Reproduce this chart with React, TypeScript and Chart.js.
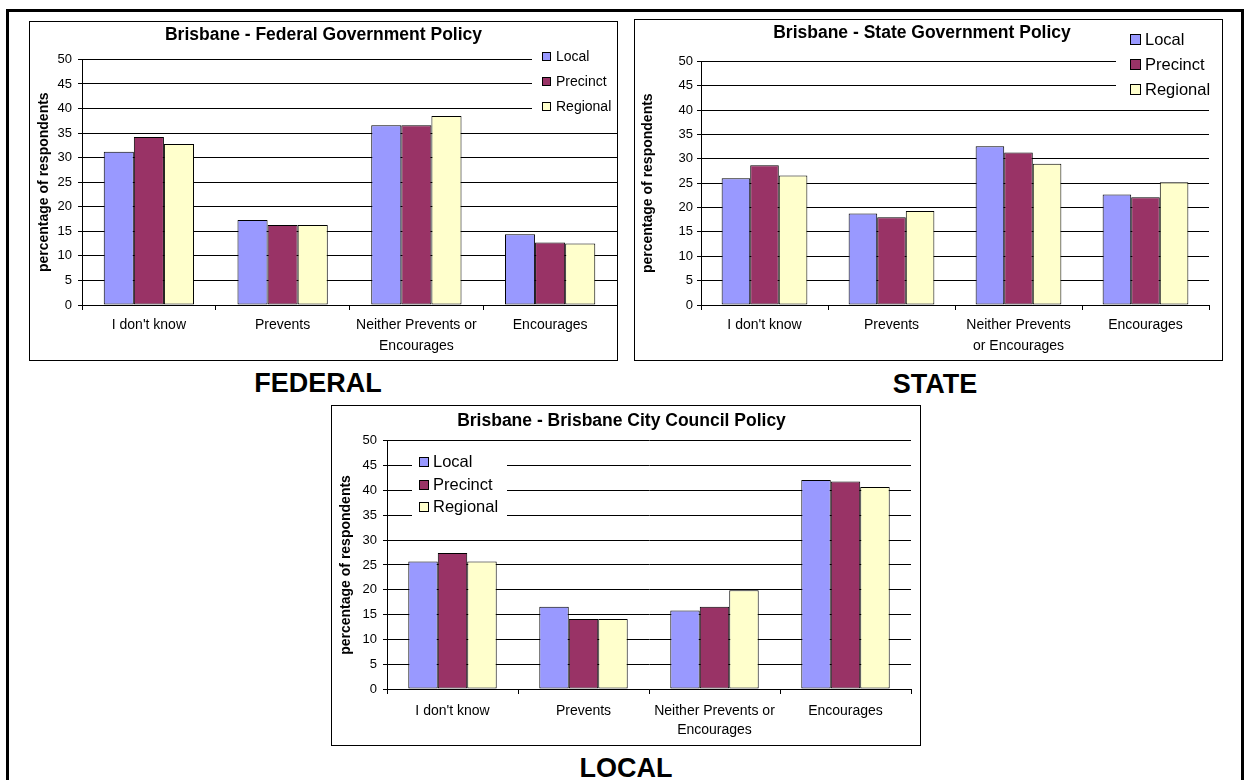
import React, { useEffect, useRef } from 'react';
import { Chart, registerables } from 'chart.js';

Chart.register(...registerables);

const FONT = "'Liberation Sans', Arial, Helvetica, sans-serif";
Chart.defaults.font.family = FONT;
Chart.defaults.color = '#000';

// ---- data ----
const seriesNames = ['Local', 'Precinct', 'Regional'];
const seriesColors = ['#9999FF', '#993366', '#FFFFCC'];

const federalCategories = ["I don't know", 'Prevents', ['Neither Prevents or', 'Encourages'], 'Encourages'];
const stateCategories = ["I don't know", 'Prevents', ['Neither Prevents', 'or Encourages'], 'Encourages'];
const localCategories = ["I don't know", 'Prevents', ['Neither Prevents or', 'Encourages'], 'Encourages'];

const federalLocal = [31.2, 17.3, 36.6, 14.4];
const federalPrecinct = [34.2, 16.3, 36.6, 12.7];
const federalRegional = [32.8, 16.3, 38.5, 12.5];

const stateLocal = [26.0, 18.8, 32.6, 22.7];
const statePrecinct = [28.7, 18.0, 31.3, 22.1];
const stateRegional = [26.6, 19.3, 29.0, 25.2];

const localLocal = [25.7, 16.6, 15.8, 42.1];
const localPrecinct = [27.4, 14.1, 16.6, 41.8];
const localRegional = [25.7, 14.1, 19.9, 40.7];

const yMin = 0;
const yMax = 50;
const yStep = 5;
const yAxisTitle = 'percentage of respondents';

const federalTitle = 'Brisbane - Federal Government Policy';
const stateTitle = 'Brisbane - State Government Policy';
const localTitle = 'Brisbane - Brisbane City Council Policy';

// ---- layout specs ----
type LegendSpec = { box: number[]; sq: number; sqX: number; textX: number; rows: number[]; fontSize: number };
type PanelSpec = {
  left: number; top: number; w: number; h: number;
  yW: number; xH: number; padR: number; t1: number; t2: number;
  yTitlePad: number; xTickPad: number; xLineHeight: number; yTickPad: number;
  legend: LegendSpec;
};

const federalSpec: PanelSpec = {
  left: 29, top: 21, w: 587, h: 338, yW: 52, xH: 55, padR: 0, t1: 3, t2: 14,
  yTitlePad: 5.6, xTickPad: 4.5, xLineHeight: 1.5, yTickPad: 6,
  legend: { box: [502, 24, 85, 72], sq: 8, sqX: 512, textX: 526, rows: [34, 59, 84], fontSize: 14 },
};
const stateSpec: PanelSpec = {
  left: 634, top: 19, w: 587, h: 340, yW: 66, xH: 55, padR: 13, t1: 3, t2: 18,
  yTitlePad: 4.6, xTickPad: 4.5, xLineHeight: 1.5, yTickPad: 4,
  legend: { box: [481, 5, 106, 75], sq: 10, sqX: 495, textX: 510, rows: [19, 44, 69], fontSize: 16.5 },
};
const localSpec: PanelSpec = {
  left: 331, top: 405, w: 588, h: 339, yW: 55, xH: 56, padR: 9, t1: 4.5, t2: 10,
  yTitlePad: 6, xTickPad: 8, xLineHeight: 1.35, yTickPad: 6,
  legend: { box: [80, 39, 95, 80], sq: 9, sqX: 87, textX: 101, rows: [55, 78, 100], fontSize: 16.5 },
};

function makeLegendPlugin(spec: LegendSpec) {
  return {
    id: 'boxLegend',
    afterDraw(chart: any) {
      const ctx = chart.ctx as CanvasRenderingContext2D;
      ctx.save();
      ctx.fillStyle = '#fff';
      ctx.fillRect(spec.box[0], spec.box[1], spec.box[2], spec.box[3]);
      ctx.font = `${spec.fontSize}px ${FONT}`;
      ctx.textBaseline = 'middle';
      ctx.textAlign = 'left';
      chart.data.datasets.forEach((ds: any, i: number) => {
        const y = spec.rows[i];
        const sy = Math.round(y - spec.sq / 2) + 0.5;
        const sx = spec.sqX + 0.5;
        ctx.fillStyle = ds.backgroundColor;
        ctx.fillRect(sx, sy, spec.sq, spec.sq);
        ctx.strokeStyle = '#000';
        ctx.lineWidth = 1;
        ctx.strokeRect(sx, sy, spec.sq, spec.sq);
        ctx.fillStyle = '#000';
        ctx.fillText(ds.label, spec.textX, y + 1);
      });
      ctx.restore();
    },
  };
}

function BarPanel({ spec, title, categories, series }: { spec: PanelSpec; title: string; categories: any[]; series: number[][] }) {
  const ref = useRef<HTMLCanvasElement>(null);
  useEffect(() => {
    if (!ref.current) return;
    const chart = new Chart(ref.current, {
      type: 'bar',
      data: {
        labels: categories,
        datasets: series.map((values, i) => ({
          label: seriesNames[i],
          data: values,
          backgroundColor: seriesColors[i],
          borderColor: '#000',
          borderWidth: 1,
          borderSkipped: false,
          categoryPercentage: 0.675,
          barPercentage: 1,
        })),
      },
      options: {
        responsive: false,
        animation: false,
        devicePixelRatio: 1,
        layout: { padding: { left: 0, right: spec.padR, top: 0, bottom: 0 } },
        plugins: {
          legend: { display: false },
          tooltip: { enabled: false },
          title: {
            display: true,
            text: title,
            color: '#000',
            font: { size: 17.5, weight: 'bold', family: FONT, lineHeight: 1.2 },
            padding: { top: spec.t1 - 0.3, bottom: spec.t2 - 0.3 },
          },
        },
        scales: {
          x: {
            afterFit: (s: any) => { s.height = spec.xH; },
            grid: { display: true, drawOnChartArea: false, drawTicks: true, tickLength: 5, color: '#000', offset: true },
            border: { display: true, color: '#000', width: 1 },
            ticks: { color: '#000', padding: spec.xTickPad, maxRotation: 0, autoSkip: false, font: { size: 14, family: FONT, lineHeight: spec.xLineHeight } },
          },
          y: {
            min: yMin,
            max: yMax,
            afterFit: (s: any) => { s.width = spec.yW; },
            grid: { color: '#000', lineWidth: 1, drawTicks: true, tickLength: 4 },
            border: { display: true, color: '#000', width: 1 },
            ticks: { stepSize: yStep, color: '#000', padding: spec.yTickPad, font: { size: 13, family: FONT } },
            title: {
              display: true,
              text: yAxisTitle,
              color: '#000',
              font: { size: 14, weight: 'bold', family: FONT, lineHeight: 1.2 },
              padding: { top: spec.yTitlePad, bottom: 0 },
            },
          },
        },
      },
      plugins: [makeLegendPlugin(spec.legend)],
    } as any);
    return () => chart.destroy();
  }, []);
  return (
    <div style={{ position: 'absolute', left: spec.left, top: spec.top, width: spec.w, height: spec.h, border: '1px solid #000', background: '#fff' }}>
      <canvas ref={ref} width={spec.w} height={spec.h} style={{ display: 'block', width: spec.w, height: spec.h }} />
    </div>
  );
}

const captionStyle = (cx: number, top: number): React.CSSProperties => ({
  position: 'absolute', left: cx, top, transform: 'translateX(-50%)',
  fontFamily: FONT, fontWeight: 'bold', fontSize: 27, lineHeight: '27px', color: '#000', whiteSpace: 'nowrap',
});

export default function App() {
  return (
    <div style={{ position: 'absolute', left: 0, top: 0, width: 1247, height: 780, overflow: 'hidden', background: '#fff' }}>
      <div style={{ position: 'absolute', left: 6, top: 9, width: 1238, height: 820, border: '3px solid #000', boxSizing: 'border-box' }} />
      <BarPanel spec={federalSpec} title={federalTitle} categories={federalCategories} series={[federalLocal, federalPrecinct, federalRegional]} />
      <BarPanel spec={stateSpec} title={stateTitle} categories={stateCategories} series={[stateLocal, statePrecinct, stateRegional]} />
      <BarPanel spec={localSpec} title={localTitle} categories={localCategories} series={[localLocal, localPrecinct, localRegional]} />
      <div style={captionStyle(318, 370)}>FEDERAL</div>
      <div style={captionStyle(935, 371)}>STATE</div>
      <div style={captionStyle(626, 755)}>LOCAL</div>
    </div>
  );
}
